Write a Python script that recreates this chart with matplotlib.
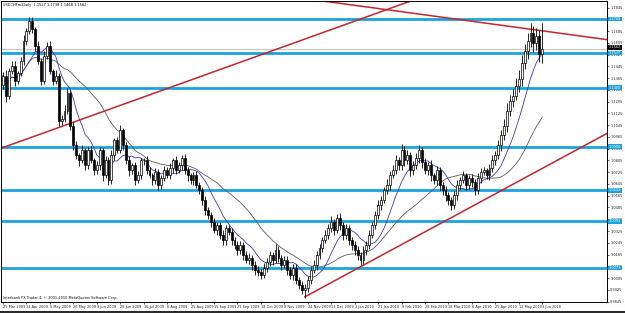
import matplotlib
matplotlib.use('Agg')
import matplotlib.pyplot as plt
import pandas as pd

# USDCHFm daily closes (one entry per bar)
closes = [
    1.1382, 1.1246, 1.1415, 1.1449, 1.1348, 1.1402, 1.1483, 1.1619,
    1.1687, 1.1754, 1.1700, 1.1585, 1.1483, 1.1348, 1.1517, 1.1585,
    1.1415, 1.1348, 1.1382, 1.1076, 1.1090, 1.1144, 1.1266, 1.1042,
    1.0907, 1.0839, 1.0805, 1.0873, 1.0771, 1.0873, 1.0805, 1.0737,
    1.0771, 1.0873, 1.0703, 1.0805, 1.0670, 1.0839, 1.0941, 1.0873,
    1.1009, 1.0907, 1.0805, 1.0737, 1.0771, 1.0670, 1.0703, 1.0805,
    1.0805, 1.0737, 1.0703, 1.0670, 1.0724, 1.0636, 1.0683, 1.0737,
    1.0703, 1.0751, 1.0805, 1.0737, 1.0771, 1.0819, 1.0737, 1.0703,
    1.0670, 1.0703, 1.0636, 1.0602, 1.0534, 1.0466, 1.0432, 1.0385,
    1.0331, 1.0364, 1.0297, 1.0263, 1.0344, 1.0317, 1.0263, 1.0229,
    1.0195, 1.0229, 1.0161, 1.0127, 1.0141, 1.0093, 1.0059, 1.0046,
    1.0026, 1.0073, 1.0114, 1.0161, 1.0127, 1.0195, 1.0141, 1.0093,
    1.0127, 1.0059, 1.0026, 1.0073, 0.9992, 0.9958, 0.9924, 0.9938,
    0.9992, 1.0059, 1.0093, 1.0161, 1.0209, 1.0263, 1.0297, 1.0344,
    1.0385, 1.0331, 1.0412, 1.0364, 1.0297, 1.0344, 1.0263, 1.0229,
    1.0195, 1.0161, 1.0127, 1.0195, 1.0229, 1.0297, 1.0364, 1.0432,
    1.0500, 1.0534, 1.0602, 1.0636, 1.0703, 1.0737, 1.0805, 1.0771,
    1.0873, 1.0805, 1.0839, 1.0737, 1.0771, 1.0819, 1.0873, 1.0792,
    1.0737, 1.0771, 1.0703, 1.0670, 1.0737, 1.0636, 1.0602, 1.0568,
    1.0534, 1.0500, 1.0568, 1.0636, 1.0670, 1.0703, 1.0636, 1.0683,
    1.0656, 1.0602, 1.0683, 1.0724, 1.0737, 1.0703, 1.0751, 1.0805,
    1.0839, 1.0907, 1.0975, 1.1042, 1.1144, 1.1212, 1.1246, 1.1314,
    1.1361, 1.1470, 1.1551, 1.1619, 1.1673, 1.1605, 1.1653, 1.1527,
    1.1562,
]
first_open = 1.1320

# wick lengths in pips above / below the candle body
up_wick = [
    25, 40, 20, 35, 30, 15, 25, 40, 20, 30, 25, 15, 30, 20, 35, 25,
    30, 15, 40, 20, 25, 35, 30, 20, 25, 30, 20, 35, 15, 25, 30, 20,
    30, 25, 20, 30, 25, 35, 20, 25, 35, 20, 25, 30, 20, 25, 30, 15,
    20, 30, 25, 15, 30, 25, 20, 30, 25, 35, 20, 30, 25, 20, 30, 25,
    20, 25, 30, 20, 25, 30, 20, 25, 30, 20, 25, 35, 20, 25, 30, 20,
    25, 30, 20, 25, 35, 20, 25, 30, 20, 35, 25, 30, 20, 40, 25, 20,
    30, 25, 20, 30, 25, 20, 30, 25, 25, 30, 35, 25, 30, 20, 35, 30,
    40, 25, 30, 35, 20, 30, 25, 20, 25, 30, 20, 25, 30, 35, 25, 30,
    35, 30, 25, 40, 30, 35, 40, 25, 45, 30, 35, 25, 30, 40, 35, 25,
    30, 25, 35, 20, 30, 25, 20, 30, 25, 20, 30, 35, 25, 30, 20, 25,
    30, 25, 35, 30, 25, 20, 30, 35, 30, 35, 40, 45, 50, 40, 45, 50,
    60, 55, 45, 50, 70, 45, 55, 40, 176,
]
dn_wick = [
    30, 45, 25, 20, 35, 25, 20, 30, 25, 20, 30, 35, 25, 30, 20, 25,
    20, 30, 25, 35, 30, 20, 25, 30, 30, 25, 35, 20, 30, 25, 20, 30,
    25, 30, 35, 20, 30, 25, 30, 20, 20, 30, 25, 35, 25, 30, 20, 25,
    30, 25, 20, 30, 25, 35, 25, 20, 20, 25, 30, 25, 20, 30, 25, 35,
    25, 30, 20, 25, 30, 35, 25, 30, 20, 30, 25, 30, 35, 20, 30, 25,
    30, 25, 30, 20, 25, 30, 35, 25, 25, 20, 30, 25, 30, 20, 25, 30,
    20, 30, 25, 35, 30, 25, 30, 55, 30, 25, 20, 30, 25, 30, 20, 25,
    25, 30, 20, 35, 30, 25, 30, 35, 30, 35, 30, 25, 30, 25, 20, 25,
    25, 30, 20, 25, 30, 20, 25, 30, 30, 35, 25, 40, 30, 25, 30, 35,
    25, 30, 35, 25, 30, 35, 30, 40, 35, 30, 25, 30, 25, 20, 30, 25,
    30, 35, 25, 30, 20, 25, 30, 25, 30, 25, 35, 30, 40, 35, 40, 30,
    45, 50, 40, 55, 45, 60, 50, 55, 59,
]

# horizontal support / resistance levels
level_prices = [1.1768, 1.1537, 1.1300, 1.0900, 1.0602, 1.0391, 1.0073]

# trend line anchors (bar index, price)
trend_a_bars, trend_a_prices = [0, 54], [1.0893, 1.1280]
trend_b_bars, trend_b_prices = [149, 194], [1.1782, 1.1660]
trend_c_bars, trend_c_prices = [103, 230], [0.9877, 1.1247]

price_ticks = [0.9845, 0.9925, 1.0005, 1.0085, 1.0165, 1.0245, 1.0325,
               1.0405, 1.0485, 1.0565, 1.0645, 1.0725, 1.0805, 1.0885,
               1.0965, 1.1045, 1.1125, 1.1205, 1.1285, 1.1365, 1.1445,
               1.1525, 1.1605, 1.1685, 1.1765, 1.1845]

date_labels = ['25 Mar 2009', '14 Apr 2009', '5 May 2009', '26 May 2009',
               '9 Jun 2009', '28 Jun 2009', '16 Jul 2009', '6 Aug 2009',
               '25 Aug 2009', '15 Sep 2009', '29 Sep 2009', '18 Oct 2009',
               '8 Nov 2009', '24 Nov 2009', '13 Dec 2009', '3 Jan 2010',
               '21 Jan 2010', '9 Feb 2010', '28 Feb 2010', '18 Mar 2010',
               '6 Apr 2010', '25 Apr 2010', '12 May 2010', '3 Jun 2010']
date_bars = [0, 8, 16, 24, 32, 40, 48, 56, 64, 72, 80, 88, 96, 104, 112,
             120, 128, 136, 144, 152, 160, 168, 176, 184]

title = 'USDCHFm,Daily  1.1527 1.1738 1.1468 1.1562'
footer = 'Interbank FX Trader 4, \u00a9 2001-2010 MetaQuotes Software Corp.'

# build OHLC table
df = pd.DataFrame({'close': closes})
df['open'] = [first_open] + closes[:-1]
df['high'] = df[['open', 'close']].max(axis=1) + pd.Series(up_wick) / 10000
df['low'] = df[['open', 'close']].min(axis=1) - pd.Series(dn_wick) / 10000
df['ma_fast'] = df['close'].rolling(10, min_periods=1).mean()
df['ma_slow'] = df['close'].rolling(27, min_periods=1).mean()

level_color = '#1aa3dc'
trend_color = '#c1272d'
fs = 2.5

fig = plt.figure(figsize=(6.25, 3.13), dpi=100)
ax = fig.add_axes([1 / 625, 11 / 313, 606 / 625, 301 / 313])

for p in level_prices:
    ax.axhline(p, color=level_color, lw=2.0, zorder=1)

ax.axhline(closes[-1], color='#c8c8c8', lw=0.8, zorder=1)

ax.axline((trend_a_bars[0], trend_a_prices[0]), (trend_a_bars[1], trend_a_prices[1]),
          color=trend_color, lw=1.1, zorder=2)
ax.axline((trend_b_bars[0], trend_b_prices[0]), (trend_b_bars[1], trend_b_prices[1]),
          color=trend_color, lw=1.1, zorder=2)
ax.plot(trend_c_bars, trend_c_prices, color=trend_color, lw=1.1, zorder=2)

ax.plot(df.index, df['ma_slow'], color='#5a5a5a', lw=0.6, zorder=3)
ax.plot(df.index, df['ma_fast'], color='#3a3ab8', lw=0.6, zorder=3)

# candles
ax.vlines(df.index, df['low'], df['high'], color='black', lw=0.6, zorder=4)
bull = df['close'] >= df['open']
body_lo = df[['open', 'close']].min(axis=1)
body_h = (df['close'] - df['open']).abs().clip(lower=0.0003)
ax.bar(df.index[bull], body_h[bull], bottom=body_lo[bull], width=0.65,
       color='white', edgecolor='black', linewidth=0.5, zorder=5)
ax.bar(df.index[~bull], body_h[~bull], bottom=body_lo[~bull], width=0.65,
       color='black', edgecolor='black', linewidth=0.5, zorder=5)

ax.set_xlim(-0.68, 206.1)
ax.set_ylim(0.9842, 1.1890)

ax.yaxis.tick_right()
ax.set_yticks(price_ticks)
ax.set_yticklabels([f'{p:.4f}' for p in price_ticks])
ax.tick_params(axis='y', labelsize=fs, length=1.5, width=0.5, pad=0.8, colors='#222222')
ax.set_xticks(date_bars)
ax.set_xticklabels(date_labels, ha='left')
ax.tick_params(axis='x', labelsize=fs, length=1.5, width=0.5, pad=0.8, colors='#222222')
for spine in ax.spines.values():
    spine.set_linewidth(0.7)

# price labels for levels on the right scale
for p in level_prices:
    ax.text(1.003, p, f'{p:.4f}', transform=ax.get_yaxis_transform(),
            fontsize=fs, color='white', va='center', ha='left',
            bbox=dict(boxstyle='square,pad=0.1', fc=level_color, ec='none'))
ax.text(1.003, closes[-1], f'{closes[-1]:.4f}', transform=ax.get_yaxis_transform(),
        fontsize=fs, color='white', va='bottom', ha='left',
        bbox=dict(boxstyle='square,pad=0.1', fc='black', ec='none'))

ax.text(0.004, 0.993, title, transform=ax.transAxes, fontsize=fs,
        va='top', ha='left', color='black')
ax.text(0.004, 0.008, footer, transform=ax.transAxes, fontsize=fs,
        va='bottom', ha='left', color='black')

fig.add_artist(plt.Line2D([0, 1], [0.003, 0.003], color='black', lw=1.2,
                          transform=fig.transFigure))

fig.savefig('out.png', dpi=100)
